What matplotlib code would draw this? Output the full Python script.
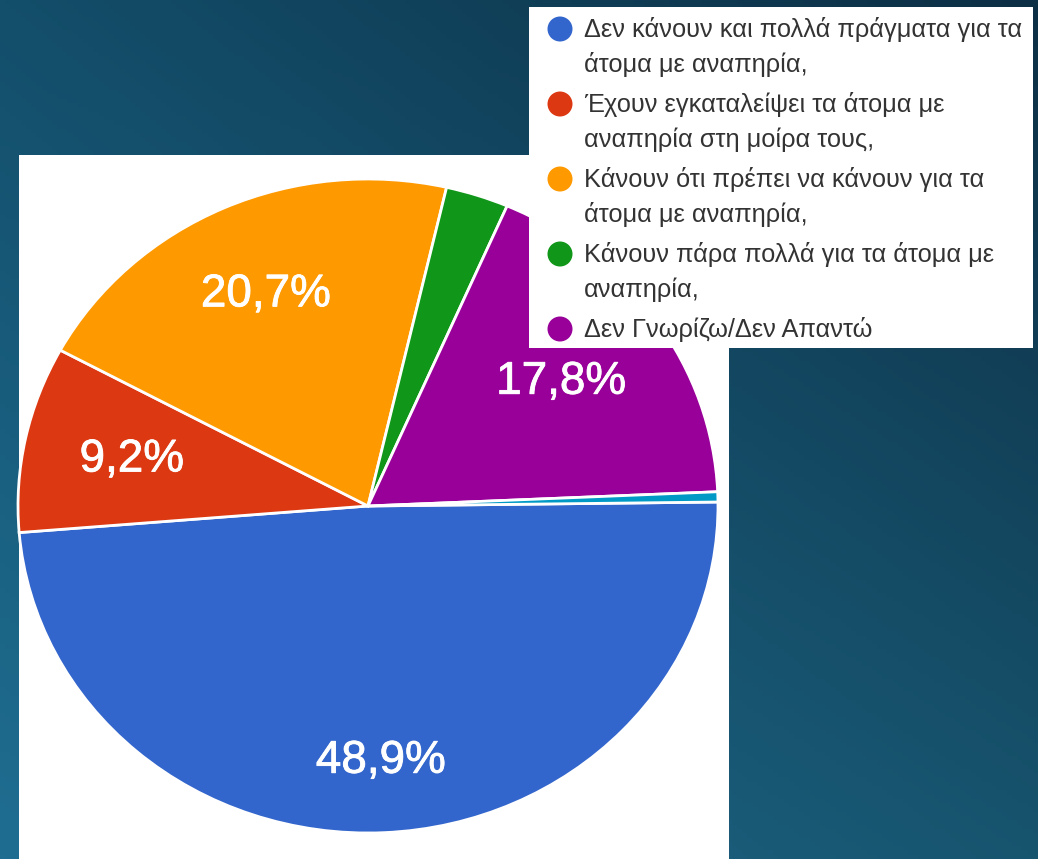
import numpy as np
import matplotlib
matplotlib.use("Agg")
import matplotlib.pyplot as plt
import matplotlib.patheffects as pe
from matplotlib.patches import Rectangle, Circle

# ---- data ----
categories = [
    "Δεν κάνουν και πολλά πράγματα για τα\nάτομα με αναπηρία,",
    "Έχουν εγκαταλείψει τα άτομα με\nαναπηρία στη μοίρα τους,",
    "Κάνουν ότι πρέπει να κάνουν για τα\nάτομα με αναπηρία,",
    "Κάνουν πάρα πολλά για τα άτομα με\nαναπηρία,",
    "Δεν Γνωρίζω/Δεν Απαντώ",
    "",
]
values = [48.9, 9.2, 20.7, 2.9, 17.8, 0.5]
colors = ["#3366cc", "#dc3912", "#ff9900", "#109618", "#990099", "#0099c6"]
label_dist = [0.78, 0.69, 0.71, 0.7, 0.67, 0.7]

W, H = 1038, 859
fig = plt.figure(figsize=(W / 100, H / 100), dpi=100)

# ---- background gradient ----
bg = fig.add_axes([0, 0, 1, 1], zorder=-2)
bg.set_axis_off()
tl = np.array([0x13, 0x4e, 0x6a]) / 255
tr = np.array([0x0d, 0x2f, 0x45]) / 255
bl = np.array([0x1f, 0x6e, 0x92]) / 255
br = np.array([0x17, 0x54, 0x6e]) / 255
u = np.linspace(0, 1, 200)[None, :, None]
v = np.linspace(0, 1, 200)[:, None, None]
img = (1 - v) * ((1 - u) * tl + u * tr) + v * ((1 - u) * bl + u * br)
bg.imshow(img, extent=[0, W, H, 0], aspect="auto")
bg.set_xlim(0, W)
bg.set_ylim(H, 0)
bg.add_patch(Rectangle((19, 155), 710, 704, facecolor="white", edgecolor="none"))

# ---- pie ----
cx, cy, a, b = 368, 506, 350, 327
ax = fig.add_axes([(cx - a) / W, 1 - (cy + b) / H, 2 * a / W, 2 * b / H], zorder=1)
start = 0.7
wedges, _ = ax.pie(values, colors=colors, startangle=start, counterclock=False,
                   wedgeprops=dict(edgecolor="white", linewidth=2))
ax.set_aspect("auto")
ax.set_xlim(-1, 1)
ax.set_ylim(-1, 1)
ax.set_axis_off()
clip = Rectangle((19, 155), 710, 704, transform=bg.transData)
for w in wedges:
    w.set_clip_path(clip)

total = sum(values)
ang = start
for val, d in zip(values, label_dist):
    span = 360 * val / total
    mid = np.deg2rad(ang - span / 2)
    ang -= span
    if val / total < 0.05:
        continue
    txt = f"{val:.1f}%".replace(".", ",")
    ax.text(d * np.cos(mid), d * np.sin(mid), txt, ha="center", va="center",
            color="white", fontsize=33, family="Liberation Sans",
            path_effects=[pe.withStroke(linewidth=0.6, foreground="white")])

# ---- legend overlay ----
ov = fig.add_axes([0, 0, 1, 1], zorder=5)
ov.set_axis_off()
ov.patch.set_alpha(0)
ov.set_xlim(0, W)
ov.set_ylim(H, 0)
ov.add_patch(Rectangle((529, 7), 504, 341, facecolor="white", edgecolor="none"))
line_y = 37
for i in range(5):
    lines = categories[i].split("\n")
    ov.add_patch(Circle((560, line_y - 8), 12.5, facecolor=colors[i], edgecolor="none"))
    for j, ln in enumerate(lines):
        ov.text(584, line_y, ln, ha="left", va="baseline", fontsize=18.3,
                color="#333333", family="Liberation Sans")
        if j < len(lines) - 1:
            line_y += 35
    line_y += 40

fig.savefig("out.png", dpi=100)
